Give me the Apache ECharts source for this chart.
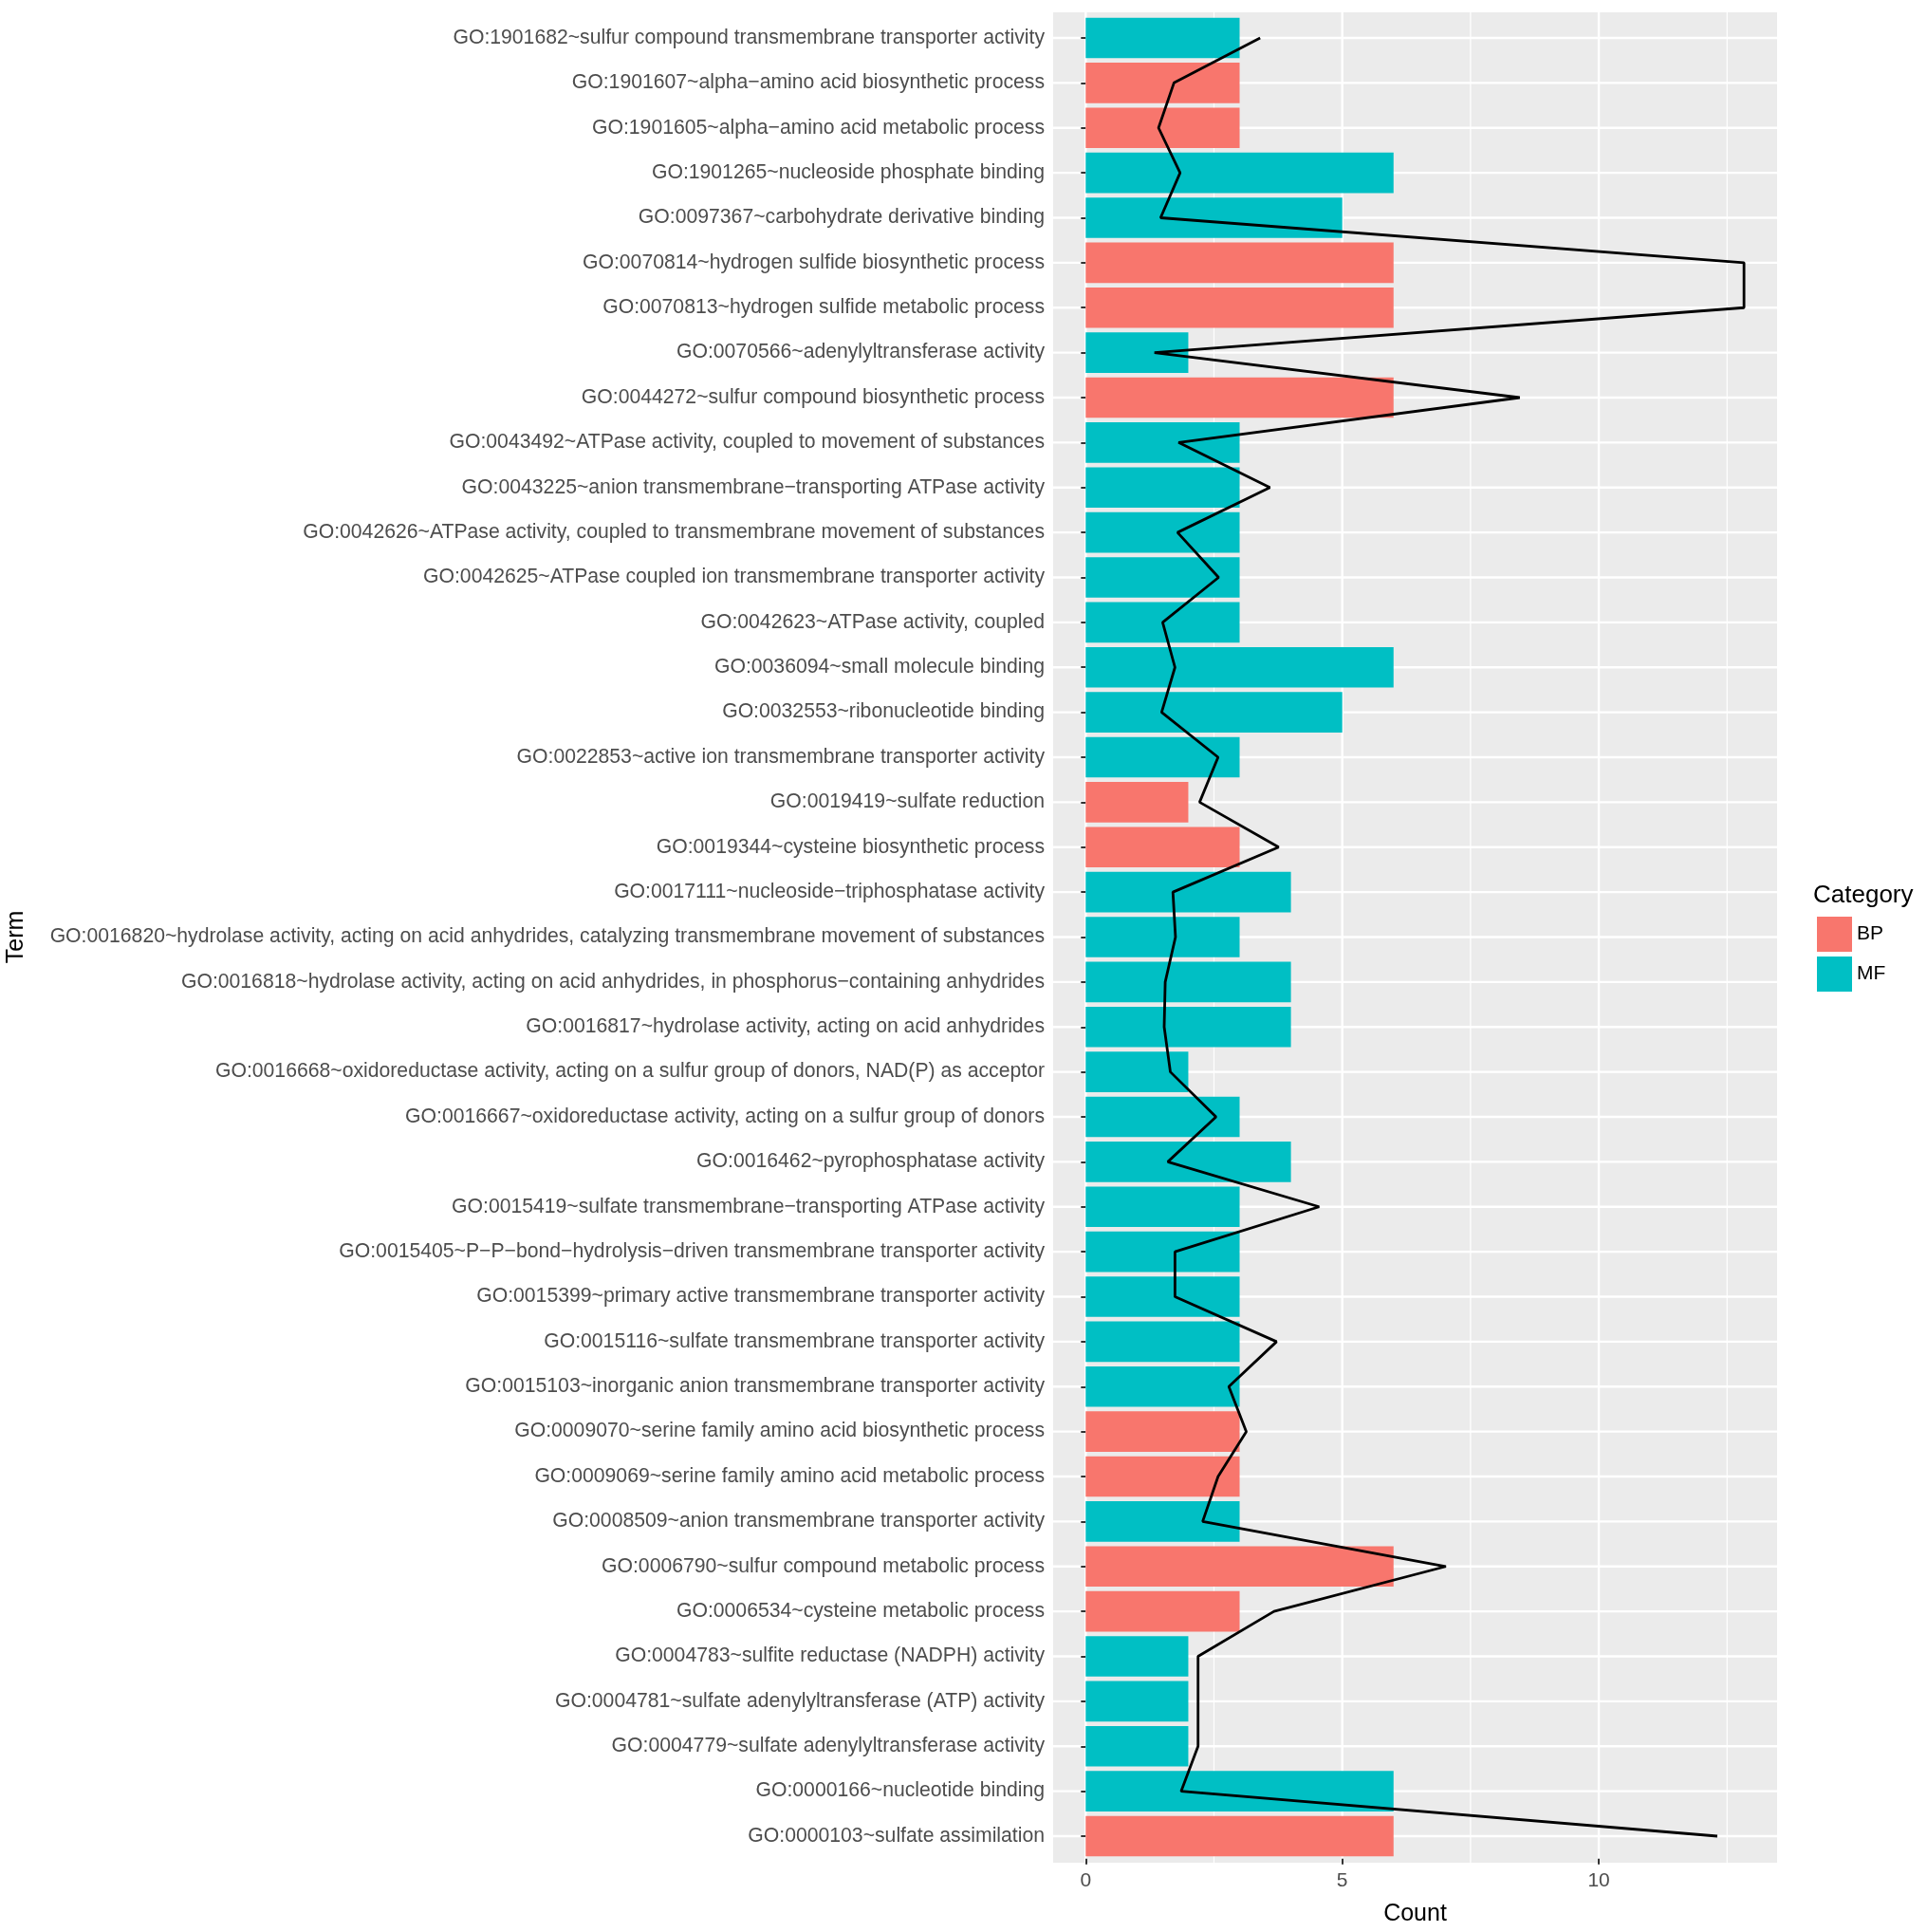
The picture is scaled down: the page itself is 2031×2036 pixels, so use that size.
<!DOCTYPE html>
<html>
<head>
<meta charset="utf-8">
<script src="https://cdn.jsdelivr.net/npm/echarts@6/dist/echarts.min.js"></script>
<style>html,body{margin:0;padding:0;background:#fff;}#c{width:2031px;height:2036px;}</style>
</head>
<body>
<div id="c"></div>
<script>
const terms = [
"GO:1901682~sulfur compound transmembrane transporter activity",
"GO:1901607~alpha\u2212amino acid biosynthetic process",
"GO:1901605~alpha\u2212amino acid metabolic process",
"GO:1901265~nucleoside phosphate binding",
"GO:0097367~carbohydrate derivative binding",
"GO:0070814~hydrogen sulfide biosynthetic process",
"GO:0070813~hydrogen sulfide metabolic process",
"GO:0070566~adenylyltransferase activity",
"GO:0044272~sulfur compound biosynthetic process",
"GO:0043492~ATPase activity, coupled to movement of substances",
"GO:0043225~anion transmembrane\u2212transporting ATPase activity",
"GO:0042626~ATPase activity, coupled to transmembrane movement of substances",
"GO:0042625~ATPase coupled ion transmembrane transporter activity",
"GO:0042623~ATPase activity, coupled",
"GO:0036094~small molecule binding",
"GO:0032553~ribonucleotide binding",
"GO:0022853~active ion transmembrane transporter activity",
"GO:0019419~sulfate reduction",
"GO:0019344~cysteine biosynthetic process",
"GO:0017111~nucleoside\u2212triphosphatase activity",
"GO:0016820~hydrolase activity, acting on acid anhydrides, catalyzing transmembrane movement of substances",
"GO:0016818~hydrolase activity, acting on acid anhydrides, in phosphorus\u2212containing anhydrides",
"GO:0016817~hydrolase activity, acting on acid anhydrides",
"GO:0016668~oxidoreductase activity, acting on a sulfur group of donors, NAD(P) as acceptor",
"GO:0016667~oxidoreductase activity, acting on a sulfur group of donors",
"GO:0016462~pyrophosphatase activity",
"GO:0015419~sulfate transmembrane\u2212transporting ATPase activity",
"GO:0015405~P\u2212P\u2212bond\u2212hydrolysis\u2212driven transmembrane transporter activity",
"GO:0015399~primary active transmembrane transporter activity",
"GO:0015116~sulfate transmembrane transporter activity",
"GO:0015103~inorganic anion transmembrane transporter activity",
"GO:0009070~serine family amino acid biosynthetic process",
"GO:0009069~serine family amino acid metabolic process",
"GO:0008509~anion transmembrane transporter activity",
"GO:0006790~sulfur compound metabolic process",
"GO:0006534~cysteine metabolic process",
"GO:0004783~sulfite reductase (NADPH) activity",
"GO:0004781~sulfate adenylyltransferase (ATP) activity",
"GO:0004779~sulfate adenylyltransferase activity",
"GO:0000166~nucleotide binding",
"GO:0000103~sulfate assimilation"
];
const categoryOf = ["MF","BP","BP","MF","MF","BP","BP","MF","BP","MF","MF","MF","MF","MF","MF","MF","MF","BP","BP","MF","MF","MF","MF","MF","MF","MF","MF","MF","MF","MF","MF","BP","BP","MF","BP","BP","MF","MF","MF","MF","BP"];
const counts = [3,3,3,6,5,6,6,2,6,3,3,3,3,3,6,5,3,2,3,4,3,4,4,2,3,4,3,3,3,3,3,3,3,3,6,3,2,2,2,6,6];
const lineValues = [3.40,1.72,1.42,1.84,1.46,12.83,12.83,1.34,8.46,1.81,3.59,1.79,2.59,1.50,1.74,1.48,2.58,2.22,3.76,1.70,1.75,1.55,1.53,1.65,2.54,1.60,4.55,1.74,1.74,3.72,2.79,3.13,2.58,2.28,7.02,3.67,2.19,2.19,2.19,1.86,12.31];
const xTicks = [0,5,10];
const xMinor = [2.5,7.5,12.5];
const legendNames = ["BP","MF"];
const colors = {BP:"#F8766D", MF:"#00BFC4"};

const FONT = "Liberation Sans";
const chart = echarts.init(document.getElementById('c'), null, {renderer:'canvas'});
const PANEL = {x:1110, y:13, w:763, h:1950};

const barSeries = legendNames.map(n => ({
  name: n, type: 'bar', stack: 'cnt', barWidth: '90%',
  itemStyle: {color: colors[n]}, z: 3, silent: true,
  data: counts.map((v,i) => categoryOf[i] === n ? v : null)
}));

chart.setOption({
  animation: false,
  textStyle: {fontFamily: FONT},
  title: {text: 'Category', left: 1906, top: 926, textStyle: {fontFamily: FONT, fontSize: 26, fontWeight: 'normal', color: '#000'}},
  legend: {
    data: legendNames, orient: 'vertical', left: 1910, top: 961,
    icon: 'rect', itemWidth: 37, itemHeight: 37, itemGap: 5,
    textStyle: {fontFamily: FONT, fontSize: 21, color: '#000'}, selectedMode: false
  },
  grid: {left: 1110, right: 158, top: 16.3, bottom: 77.3, containLabel: false},
  xAxis: {
    type: 'value', min: -0.634, max: 13.475,
    name: 'Count', nameLocation: 'middle', nameGap: 46,
    nameTextStyle: {fontFamily: FONT, fontSize: 25, color: '#000'},
    axisLine: {show: false},
    axisTick: {show: true, customValues: xTicks, length: 6, lineStyle: {color: '#333', width: 2}},
    axisLabel: {customValues: xTicks, fontFamily: FONT, fontSize: 21, color: '#4D4D4D', margin: 13},
    splitLine: {show: false}
  },
  yAxis: {
    type: 'category', inverse: true, data: terms, boundaryGap: true,
    name: 'Term', nameLocation: 'middle', nameGap: 1080, nameRotate: 90,
    nameTextStyle: {fontFamily: FONT, fontSize: 25, color: '#000'},
    axisLine: {show: false},
    axisTick: {show: true, alignWithLabel: true, length: 5, lineStyle: {color: '#333', width: 2}},
    axisLabel: {fontFamily: FONT, fontSize: 21.2, color: '#4D4D4D', margin: 9, interval: 0},
    splitLine: {show: false}
  },
  series: barSeries.concat([{
    name: 'line', type: 'line', data: lineValues, symbol: 'none', silent: true,
    lineStyle: {color: '#000', width: 2.8}, z: 5
  }])
});

// panel background and gridlines through the axes' own scales
const g = [];
g.push({type:'rect', shape:{x:PANEL.x, y:PANEL.y, width:PANEL.w, height:PANEL.h}, style:{fill:'#EBEBEB'}, z:-10, silent:true});
xMinor.forEach(v => {
  const px = chart.convertToPixel({xAxisIndex:0}, v);
  g.push({type:'line', shape:{x1:px, y1:PANEL.y, x2:px, y2:PANEL.y+PANEL.h}, style:{stroke:'#fff', lineWidth:1.2}, z:-9, silent:true});
});
xTicks.forEach(v => {
  const px = chart.convertToPixel({xAxisIndex:0}, v);
  g.push({type:'line', shape:{x1:px, y1:PANEL.y, x2:px, y2:PANEL.y+PANEL.h}, style:{stroke:'#fff', lineWidth:2.4}, z:-8, silent:true});
});
terms.forEach(t => {
  const py = chart.convertToPixel({yAxisIndex:0}, t);
  g.push({type:'line', shape:{x1:PANEL.x, y1:py, x2:PANEL.x+PANEL.w, y2:py}, style:{stroke:'#fff', lineWidth:2.4}, z:-8, silent:true});
});
chart.setOption({graphic: {elements: g}});
</script>
</body>
</html>
